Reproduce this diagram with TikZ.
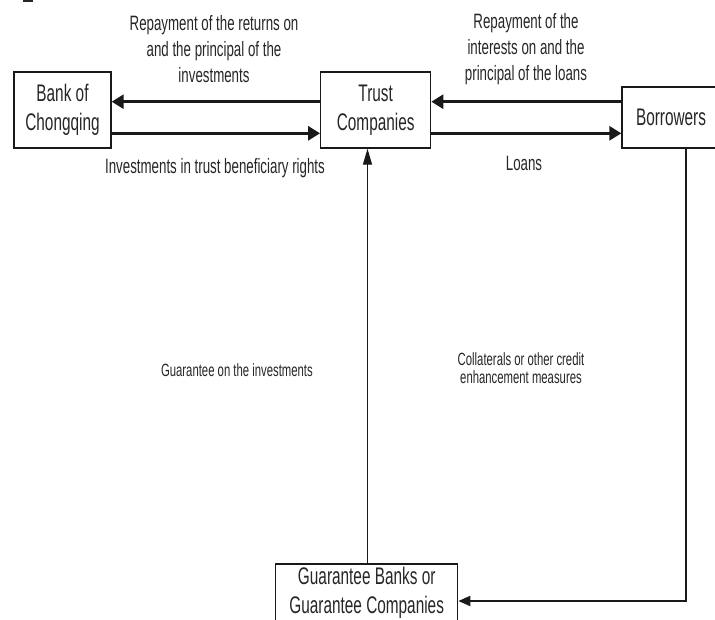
\documentclass[tikz,border=0pt]{standalone}
\usepackage{fontspec}
\setmainfont{Liberation Sans}[FakeStretch=0.64]
\usetikzlibrary{arrows.meta,calc}
\begin{document}
\begin{tikzpicture}[x=1pt,y=-1pt,
  boxnode/.style={draw=black!90,line width=1.3pt,inner sep=0pt,align=center,
    font=\fontsize{24}{29.5}\selectfont,text=black!85},
  lbl/.style={align=center,font=\fontsize{20.8}{26}\selectfont,text=black!85,inner sep=0pt},
  lblsmall/.style={align=center,font=\fontsize{17.7}{18}\selectfont,text=black!85,inner sep=0pt},
  thickarr/.style={draw=black!90,line width=2.8pt,-{Triangle[length=12pt,width=14pt]}},
  thinarr/.style={draw=black!90,line width=1.3pt,-{Triangle[length=16pt,width=9pt]}},
  midarr/.style={draw=black!90,line width=2pt,-{Triangle[length=12pt,width=10pt]}}]
\useasboundingbox (0,0) rectangle (715,619);
\clip (0,0) rectangle (715,619);
\fill[black!85] (23,0) rectangle (33,2);
% boxes
\node[boxnode,minimum width=97pt,minimum height=76pt] (bank) at (62.5,110) {Bank of\\Chongqing};
\node[boxnode,minimum width=110pt,minimum height=76pt] (trust) at (375.7,110) {Trust\\Companies};
\node[boxnode,minimum width=98pt,minimum height=61pt] (borr) at (671,117.5) {Borrowers};
\node[boxnode,minimum width=182pt,minimum height=58pt] (guar) at (366.7,593) {Guarantee Banks or\\Guarantee Companies};
% arrows
\draw[thickarr] ([yshift=8.3pt]trust.west) -- ([yshift=8.3pt]trust.west -| bank.east);
\draw[thickarr] ([yshift=-23.3pt]bank.east) -- ([yshift=-23.3pt]bank.east -| trust.west);
\draw[thickarr] ([yshift=8.3pt]trust.east -| borr.west) -- ([yshift=8.3pt]trust.east);
\draw[thickarr] ([yshift=-23.3pt]trust.east) -- ([yshift=-23.3pt]trust.east -| borr.west);
\draw[thinarr] ([xshift=0.8pt]guar.north) -- ([xshift=0.8pt]guar.north |- trust.south);
\draw[midarr,line join=miter] ([xshift=15pt]borr.south) |- ([yshift=-8pt]guar.east);
% labels
\node[lbl] (l1) at (214,49) {Repayment of the returns on\\and the principal of the\\investments};
\node[lbl] (l2) at (526,49) {Repayment of the\\interests on and the\\principal of the loans};
\node[lbl,anchor=base] (l3) at (215,173) {Investments in trust beneficiary rights};
\node[lbl,anchor=base] (l4) at (524,170) {Loans};
\node[lblsmall,anchor=base east] (l5) at (313,376) {Guarantee on the investments};
\node[lblsmall] (l6) at (521,368) {Collaterals or other credit\\enhancement measures};
\end{tikzpicture}
\end{document}
